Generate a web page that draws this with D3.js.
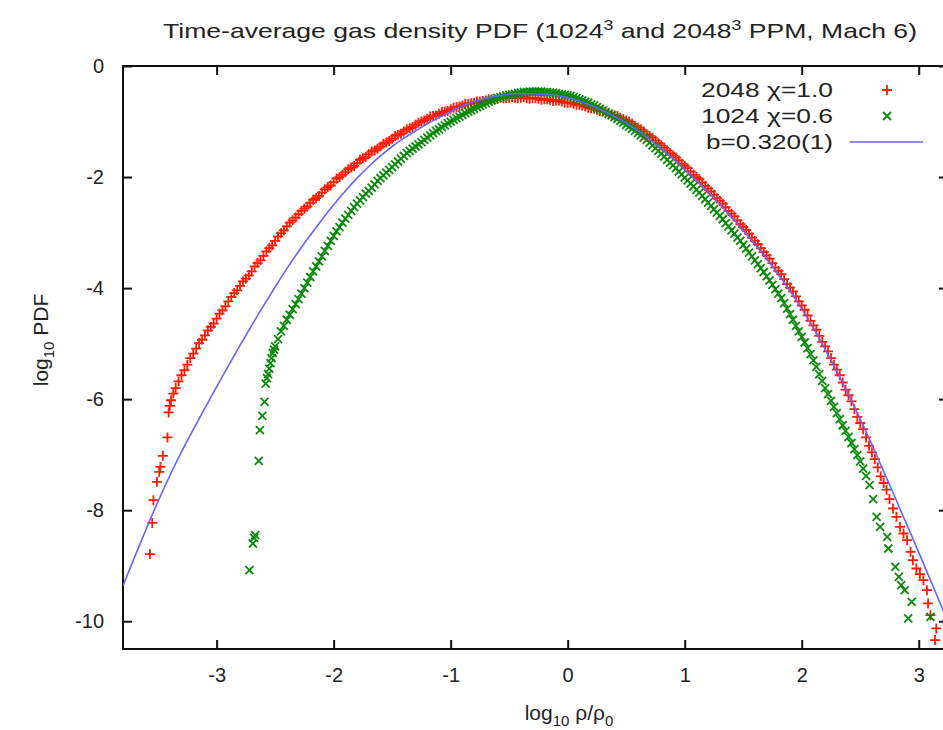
<!DOCTYPE html>
<html>
<head>
<meta charset="utf-8">
<script src="https://cdn.jsdelivr.net/npm/d3@7"></script>
<style>
  html, body { margin: 0; padding: 0; background: #fff; }
  svg { display: block; }
  text { font-family: "Liberation Sans", Arial, Helvetica, sans-serif; fill: #222; }
</style>
</head>
<body>
<svg id="chart" width="943" height="730"></svg>
<script>
// ---------- data ----------
const xTicks = [-3, -2, -1, 0, 1, 2, 3];
const yTicks = [0, -2, -4, -6, -8, -10];

const seriesNames = ["2048 \u03c7=1.0", "1024 \u03c7=0.6", "b=0.320(1)"];

// 2048^3, chi = 1.0  (red +)
const red2048 = [
  [-3.57,-8.79],[-3.55,-8.23],[-3.54,-7.82],[-3.51,-7.49],[-3.49,-7.31],[-3.48,-7.22],[-3.46,-7.02],[-3.42,-6.69],
  [-3.41,-6.24],[-3.40,-6.12],[-3.39,-6.02],[-3.37,-5.90],[-3.35,-5.80],
  [-3.325,-5.68],[-3.30,-5.57],[-3.275,-5.48],[-3.25,-5.38],[-3.225,-5.26],[-3.20,-5.18],[-3.175,-5.09],[-3.15,-4.99],
  [-3.125,-4.93],[-3.10,-4.85],[-3.075,-4.76],[-3.05,-4.70],[-3.025,-4.64],[-3.00,-4.55],[-2.975,-4.46],[-2.95,-4.40],
  [-2.925,-4.33],[-2.90,-4.24],[-2.875,-4.16],[-2.85,-4.09],[-2.825,-4.04],[-2.80,-3.96],[-2.775,-3.88],[-2.75,-3.83],
  [-2.725,-3.77],[-2.70,-3.70],[-2.675,-3.61],[-2.65,-3.55],[-2.625,-3.50],[-2.60,-3.42],[-2.575,-3.34],[-2.55,-3.28],
  [-2.525,-3.23],[-2.50,-3.15],[-2.475,-3.07],[-2.45,-3.01],[-2.425,-2.96],[-2.40,-2.89],[-2.375,-2.82],[-2.35,-2.78],
  [-2.325,-2.73],[-2.30,-2.67],[-2.275,-2.61],[-2.25,-2.57],[-2.225,-2.53],[-2.20,-2.47],[-2.175,-2.41],[-2.15,-2.38],
  [-2.125,-2.34],[-2.10,-2.28],[-2.075,-2.22],[-2.05,-2.18],[-2.025,-2.15],[-2.00,-2.09],[-1.975,-2.03],[-1.95,-2.00],
  [-1.925,-1.96],[-1.90,-1.91],[-1.875,-1.86],[-1.85,-1.83],[-1.825,-1.80],[-1.80,-1.75],[-1.775,-1.69],[-1.75,-1.66],
  [-1.725,-1.64],[-1.70,-1.59],[-1.675,-1.54],[-1.65,-1.52],[-1.625,-1.49],[-1.60,-1.45],[-1.575,-1.40],[-1.55,-1.38],
  [-1.525,-1.35],[-1.50,-1.31],[-1.475,-1.26],[-1.45,-1.24],[-1.425,-1.22],[-1.40,-1.18],[-1.375,-1.14],[-1.35,-1.12],
  [-1.325,-1.10],[-1.30,-1.06],[-1.275,-1.02],[-1.25,-1.00],[-1.225,-0.98],[-1.20,-0.95],[-1.175,-0.91],[-1.15,-0.90],
  [-1.125,-0.89],[-1.10,-0.86],[-1.075,-0.83],[-1.05,-0.82],[-1.025,-0.81],[-1.00,-0.78],[-0.975,-0.75],[-0.95,-0.74],
  [-0.925,-0.73],[-0.90,-0.71],[-0.875,-0.68],[-0.85,-0.68],[-0.825,-0.67],[-0.80,-0.66],[-0.775,-0.64],[-0.75,-0.64],
  [-0.725,-0.63],[-0.70,-0.62],[-0.675,-0.60],[-0.65,-0.60],[-0.625,-0.60],[-0.60,-0.59],[-0.575,-0.57],[-0.55,-0.58],
  [-0.525,-0.58],[-0.50,-0.57],[-0.475,-0.56],[-0.45,-0.57],[-0.425,-0.58],[-0.40,-0.57],[-0.375,-0.56],[-0.35,-0.58],
  [-0.325,-0.59],[-0.30,-0.58],[-0.275,-0.58],[-0.25,-0.59],[-0.225,-0.61],[-0.20,-0.60],[-0.175,-0.60],[-0.15,-0.61],
  [-0.125,-0.63],[-0.10,-0.62],[-0.075,-0.62],[-0.05,-0.64],[-0.025,-0.66],[0.00,-0.66],[0.025,-0.66],[0.05,-0.68],
  [0.075,-0.70],[0.10,-0.70],[0.125,-0.71],[0.15,-0.73],[0.175,-0.75],[0.20,-0.76],[0.225,-0.77],[0.25,-0.79],
  [0.275,-0.81],[0.30,-0.82],[0.325,-0.83],[0.35,-0.85],[0.375,-0.88],[0.40,-0.89],[0.425,-0.90],[0.45,-0.93],
  [0.475,-0.96],[0.50,-0.98],[0.525,-1.00],[0.55,-1.04],[0.575,-1.08],[0.60,-1.11],[0.625,-1.14],[0.65,-1.18],
  [0.675,-1.23],[0.70,-1.26],[0.725,-1.29],[0.75,-1.34],[0.775,-1.39],[0.80,-1.43],[0.825,-1.47],[0.85,-1.52],
  [0.875,-1.57],[0.90,-1.61],[0.925,-1.65],[0.95,-1.70],[0.975,-1.76],[1.00,-1.80],[1.025,-1.84],[1.05,-1.90],
  [1.075,-1.96],[1.10,-2.00],[1.125,-2.04],[1.15,-2.10],[1.175,-2.16],[1.20,-2.21],[1.225,-2.26],[1.25,-2.32],
  [1.275,-2.38],[1.30,-2.43],[1.325,-2.48],[1.35,-2.54],[1.375,-2.61],[1.40,-2.66],[1.425,-2.71],[1.45,-2.78],
  [1.475,-2.85],[1.50,-2.90],[1.525,-2.95],[1.55,-3.02],[1.575,-3.09],[1.60,-3.15],[1.625,-3.21],[1.65,-3.28],
  [1.675,-3.35],[1.70,-3.41],[1.725,-3.47],[1.75,-3.55],[1.775,-3.63],[1.80,-3.69],[1.825,-3.75],[1.85,-3.84],
  [1.875,-3.93],[1.90,-3.99],[1.925,-4.06],[1.95,-4.15],[1.975,-4.24],[2.00,-4.31],[2.025,-4.39],[2.05,-4.49],
  [2.075,-4.59],[2.10,-4.67],[2.125,-4.75],[2.15,-4.86],[2.175,-4.97],[2.20,-5.05],[2.225,-5.14],[2.25,-5.26],
  [2.275,-5.38],[2.30,-5.47],[2.325,-5.57],[2.35,-5.70],[2.375,-5.83],[2.40,-5.93],[2.425,-6.04],[2.45,-6.18],
  [2.475,-6.32],[2.50,-6.43],[2.525,-6.54],[2.55,-6.69],[2.575,-6.84],[2.60,-6.96],[2.625,-7.08],[2.65,-7.23],
  [2.675,-7.39],[2.70,-7.51],[2.725,-7.63],[2.75,-7.80],[2.78,-7.97],[2.81,-8.12],
  [2.84,-8.30],[2.87,-8.42],[2.90,-8.54],[2.93,-8.75],[2.95,-8.90],[2.98,-9.05],[3.01,-9.15],[3.04,-9.26],
  [3.07,-9.44],[3.08,-9.68],[3.10,-9.89],[3.15,-10.13],[3.14,-10.34]
];

// 1024^3, chi = 0.6  (green x)
const green1024 = [
  [-2.72,-9.08],[-2.69,-8.60],[-2.68,-8.50],[-2.67,-8.45],[-2.64,-7.11],[-2.63,-6.56],[-2.61,-6.30],[-2.59,-6.05],
  [-2.58,-5.72],[-2.57,-5.62],[-2.56,-5.55],[-2.55,-5.45],[-2.54,-5.35],[-2.53,-5.26],[-2.52,-5.17],[-2.51,-5.11],
  [-2.50,-5.05],[-2.475,-4.92],[-2.45,-4.78],[-2.425,-4.68],[-2.40,-4.57],[-2.375,-4.48],[-2.35,-4.38],[-2.325,-4.29],
  [-2.30,-4.20],[-2.275,-4.10],[-2.25,-4.00],[-2.225,-3.90],[-2.20,-3.80],[-2.175,-3.70],[-2.15,-3.61],[-2.125,-3.52],
  [-2.10,-3.43],[-2.075,-3.33],[-2.05,-3.24],[-2.025,-3.15],[-2.00,-3.06],[-1.975,-2.98],[-1.95,-2.90],[-1.925,-2.82],
  [-1.90,-2.75],[-1.875,-2.68],[-1.85,-2.61],[-1.825,-2.54],[-1.80,-2.48],[-1.775,-2.42],[-1.75,-2.36],[-1.725,-2.30],
  [-1.70,-2.25],[-1.675,-2.19],[-1.65,-2.13],[-1.625,-2.07],[-1.60,-2.02],[-1.575,-1.97],[-1.55,-1.92],[-1.525,-1.87],
  [-1.50,-1.82],[-1.475,-1.77],[-1.45,-1.72],[-1.425,-1.67],[-1.40,-1.62],[-1.375,-1.57],[-1.35,-1.53],[-1.325,-1.49],
  [-1.30,-1.45],[-1.275,-1.41],[-1.25,-1.37],[-1.225,-1.33],[-1.20,-1.29],[-1.175,-1.25],[-1.15,-1.21],[-1.125,-1.17],
  [-1.10,-1.14],[-1.075,-1.10],[-1.05,-1.07],[-1.025,-1.03],[-1.00,-1.00],[-0.975,-0.97],[-0.95,-0.94],[-0.925,-0.91],
  [-0.90,-0.88],[-0.875,-0.85],[-0.85,-0.82],[-0.825,-0.80],[-0.80,-0.77],[-0.775,-0.74],[-0.75,-0.72],[-0.725,-0.69],
  [-0.70,-0.67],[-0.675,-0.64],[-0.65,-0.62],[-0.625,-0.60],[-0.60,-0.58],[-0.575,-0.56],[-0.55,-0.55],[-0.525,-0.53],
  [-0.50,-0.52],[-0.475,-0.51],[-0.45,-0.50],[-0.425,-0.49],[-0.40,-0.48],[-0.375,-0.47],[-0.35,-0.47],[-0.325,-0.46],
  [-0.30,-0.46],[-0.275,-0.46],[-0.25,-0.46],[-0.225,-0.46],[-0.20,-0.47],[-0.175,-0.47],[-0.15,-0.48],[-0.125,-0.48],
  [-0.10,-0.49],[-0.075,-0.50],[-0.05,-0.51],[-0.025,-0.52],[0.00,-0.53],[0.025,-0.54],[0.05,-0.56],[0.075,-0.58],
  [0.10,-0.60],[0.125,-0.62],[0.15,-0.64],[0.175,-0.66],[0.20,-0.69],[0.225,-0.71],[0.25,-0.74],[0.275,-0.77],
  [0.30,-0.80],[0.325,-0.83],[0.35,-0.86],[0.375,-0.89],[0.40,-0.92],[0.425,-0.95],[0.45,-0.99],[0.475,-1.02],
  [0.50,-1.06],[0.525,-1.09],[0.55,-1.13],[0.575,-1.17],[0.60,-1.21],[0.625,-1.25],[0.65,-1.29],[0.675,-1.33],
  [0.70,-1.38],[0.725,-1.43],[0.75,-1.48],[0.775,-1.53],[0.80,-1.58],[0.825,-1.63],[0.85,-1.69],[0.875,-1.74],
  [0.90,-1.79],[0.925,-1.84],[0.95,-1.90],[0.975,-1.95],[1.00,-2.01],[1.025,-2.06],[1.05,-2.12],[1.075,-2.17],
  [1.10,-2.23],[1.125,-2.28],[1.15,-2.34],[1.175,-2.40],[1.20,-2.46],[1.225,-2.52],[1.25,-2.58],[1.275,-2.64],
  [1.30,-2.70],[1.325,-2.76],[1.35,-2.83],[1.375,-2.89],[1.40,-2.96],[1.425,-3.02],[1.45,-3.09],[1.475,-3.15],
  [1.50,-3.22],[1.525,-3.29],[1.55,-3.36],[1.575,-3.43],[1.60,-3.50],[1.625,-3.57],[1.65,-3.64],[1.675,-3.71],
  [1.70,-3.79],[1.725,-3.86],[1.75,-3.94],[1.775,-4.02],[1.80,-4.10],[1.825,-4.18],[1.85,-4.27],[1.875,-4.37],
  [1.90,-4.47],[1.925,-4.57],[1.95,-4.68],[1.975,-4.78],[2.00,-4.88],[2.025,-4.98],[2.05,-5.08],[2.075,-5.19],
  [2.10,-5.30],[2.125,-5.42],[2.15,-5.55],[2.175,-5.67],[2.20,-5.80],[2.225,-5.91],[2.25,-6.03],[2.275,-6.14],
  [2.30,-6.25],[2.325,-6.36],[2.35,-6.47],[2.375,-6.57],[2.40,-6.68],[2.425,-6.79],[2.45,-6.90],[2.475,-7.01],
  [2.50,-7.12],[2.525,-7.25],[2.55,-7.38],[2.58,-7.55],[2.61,-7.80],[2.64,-8.12],[2.67,-8.30],[2.73,-8.48],
  [2.74,-8.69],[2.80,-9.02],[2.83,-9.20],[2.85,-9.35],[2.88,-9.44],[2.94,-9.65],[2.91,-9.95],[3.10,-9.92]
];

// fit, b = 0.320(1)  (blue line)
const fitLine = [
  [-3.80,-9.36],[-3.70,-8.84],[-3.60,-8.33],[-3.50,-7.84],[-3.40,-7.38],[-3.30,-6.95],[-3.20,-6.55],[-3.10,-6.16],
  [-3.00,-5.78],[-2.90,-5.40],[-2.80,-5.03],[-2.70,-4.67],[-2.60,-4.32],[-2.50,-3.98],[-2.40,-3.65],[-2.30,-3.34],
  [-2.20,-3.05],[-2.10,-2.77],[-2.00,-2.50],[-1.90,-2.25],[-1.80,-2.02],[-1.70,-1.81],[-1.60,-1.62],[-1.50,-1.45],
  [-1.40,-1.30],[-1.30,-1.17],[-1.20,-1.04],[-1.10,-0.93],[-1.00,-0.82],[-0.90,-0.72],[-0.80,-0.64],[-0.70,-0.58],
  [-0.60,-0.54],[-0.50,-0.51],[-0.40,-0.50],[-0.30,-0.50],[-0.20,-0.51],[-0.10,-0.53],[0.00,-0.57],[0.10,-0.63],
  [0.20,-0.71],[0.30,-0.80],[0.40,-0.91],[0.50,-1.03],[0.60,-1.17],[0.70,-1.32],[0.80,-1.49],[0.90,-1.67],
  [1.00,-1.86],[1.10,-2.06],[1.20,-2.27],[1.30,-2.49],[1.40,-2.72],[1.50,-2.96],[1.60,-3.21],[1.70,-3.47],
  [1.80,-3.75],[1.90,-4.05],[2.00,-4.37],[2.10,-4.72],[2.20,-5.10],[2.30,-5.50],[2.40,-5.92],[2.50,-6.36],
  [2.60,-6.82],[2.70,-7.30],[2.80,-7.78],[2.90,-8.27],[3.00,-8.76],[3.10,-9.26],[3.20,-9.76],[3.25,-10.01]
];

// ---------- layout ----------
const colors = { red: "#ff1a00", green: "#0a8a0a", blue: "#6464ff" };
const svg = d3.select("#chart");
const plot = { left: 123, right: 948, top: 66, bottom: 649 };

const x = d3.scaleLinear().domain([-3.8, 3.25]).range([plot.left, plot.right]);
const y = d3.scaleLinear().domain([-10.5, 0]).range([plot.bottom, plot.top]);

const fmt = d => String(d);

// axes
const gx = svg.append("g").attr("transform", `translate(0,${plot.bottom})`)
  .call(d3.axisBottom(x).tickValues(xTicks).tickFormat(fmt).tickSizeInner(-9).tickSizeOuter(0).tickPadding(19));
const gxt = svg.append("g").attr("transform", `translate(0,${plot.top})`)
  .call(d3.axisTop(x).tickValues(xTicks).tickFormat("").tickSizeInner(-9).tickSizeOuter(0));
const gy = svg.append("g").attr("transform", `translate(${plot.left},0)`)
  .call(d3.axisLeft(y).tickValues(yTicks).tickFormat(fmt).tickSizeInner(-9).tickSizeOuter(0).tickPadding(19));
const gyr = svg.append("g").attr("transform", `translate(${plot.right},0)`)
  .call(d3.axisRight(y).tickValues(yTicks).tickFormat("").tickSizeInner(-9).tickSizeOuter(0));

[gx, gxt, gy, gyr].forEach(g => {
  g.select(".domain").remove();
  g.selectAll(".tick line").attr("stroke", "#111").attr("stroke-width", 2);
  g.selectAll(".tick text").attr("font-size", 20).attr("fill", "#222")
    .attr("font-family", "'Liberation Sans', Arial, sans-serif");
});

// frame
svg.append("rect")
  .attr("x", plot.left).attr("y", plot.top)
  .attr("width", plot.right - plot.left).attr("height", plot.bottom - plot.top)
  .attr("fill", "none").attr("stroke", "#111").attr("stroke-width", 2);

// clip
svg.append("clipPath").attr("id", "clip").append("rect")
  .attr("x", plot.left).attr("y", plot.top)
  .attr("width", plot.right - plot.left).attr("height", plot.bottom - plot.top);
const gData = svg.append("g").attr("clip-path", "url(#clip)");

const plusPath = "M-5,0H5M0,-5V5";
const crossPath = "M-4,-4L4,4M-4,4L4,-4";

gData.append("g").selectAll("path").data(red2048).join("path")
  .attr("d", plusPath)
  .attr("transform", d => `translate(${x(d[0])},${y(d[1])})`)
  .attr("stroke", colors.red).attr("stroke-width", 1.8).attr("fill", "none");

gData.append("g").selectAll("path").data(green1024).join("path")
  .attr("d", crossPath)
  .attr("transform", d => `translate(${x(d[0])},${y(d[1])})`)
  .attr("stroke", colors.green).attr("stroke-width", 1.8).attr("fill", "none");

gData.append("path").datum(fitLine)
  .attr("d", d3.line().x(d => x(d[0])).y(d => y(d[1])).curve(d3.curveNatural))
  .attr("fill", "none").attr("stroke", colors.blue).attr("stroke-width", 1.6);

// title
const title = svg.append("text").attr("x", 540).attr("y", 38).attr("text-anchor", "middle")
  .attr("font-size", 21);
title.append("tspan").text("Time-average gas density PDF (1024");
title.append("tspan").attr("dy", -8).attr("font-size", 14).text("3");
title.append("tspan").attr("dy", 8).text(" and 2048");
title.append("tspan").attr("dy", -8).attr("font-size", 14).text("3");
title.append("tspan").attr("dy", 8).text(" PPM, Mach 6)");
title.attr("textLength", 754).attr("lengthAdjust", "spacingAndGlyphs");

// x label
const xl = svg.append("text").attr("x", 569).attr("y", 720).attr("text-anchor", "middle").attr("font-size", 21);
xl.append("tspan").text("log");
xl.append("tspan").attr("dy", 6).attr("font-size", 15).text("10");
xl.append("tspan").attr("dy", -6).text(" \u03c1/\u03c1");
xl.append("tspan").attr("dy", 6).attr("font-size", 15).text("0");

// y label
const yl = svg.append("text").attr("transform", "translate(48,340) rotate(-90)")
  .attr("text-anchor", "middle").attr("font-size", 21);
yl.append("tspan").text("log");
yl.append("tspan").attr("dy", 6).attr("font-size", 15).text("10");
yl.append("tspan").attr("dy", -6).text(" PDF");

// legend
const legRows = [
  { name: seriesNames[0], y: 90, kind: "plus", w: 132 },
  { name: seriesNames[1], y: 116, kind: "cross", w: 132 },
  { name: seriesNames[2], y: 142, kind: "line", w: 127 }
];
const leg = svg.append("g");
legRows.forEach(r => {
  leg.append("text").attr("x", 833).attr("y", r.y + 7).attr("text-anchor", "end")
    .attr("font-size", 21).attr("textLength", r.w).attr("lengthAdjust", "spacingAndGlyphs").text(r.name);
  if (r.kind === "plus") {
    leg.append("path").attr("d", plusPath).attr("transform", `translate(887,${r.y})`)
      .attr("stroke", colors.red).attr("stroke-width", 1.8).attr("fill", "none");
  } else if (r.kind === "cross") {
    leg.append("path").attr("d", crossPath).attr("transform", `translate(887,${r.y})`)
      .attr("stroke", colors.green).attr("stroke-width", 1.8).attr("fill", "none");
  } else {
    leg.append("line").attr("x1", 850).attr("x2", 923).attr("y1", r.y).attr("y2", r.y)
      .attr("stroke", colors.blue).attr("stroke-width", 1.6);
  }
});
</script>
</body>
</html>
